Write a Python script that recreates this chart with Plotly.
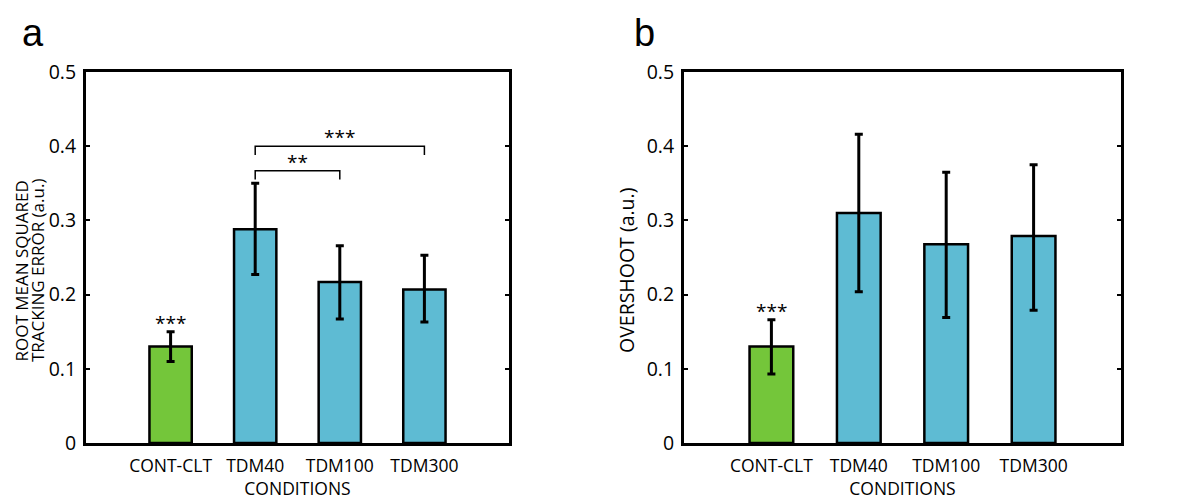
import plotly.graph_objects as go

categories = ["CONT-CLT", "TDM40", "TDM100", "TDM300"]
rmse = [0.130, 0.288, 0.217, 0.207]
rmse_err = [0.020, 0.062, 0.049, 0.046]
rmse_err_minus = [0.020, 0.061, 0.050, 0.044]
overshoot = [0.130, 0.310, 0.268, 0.279]
overshoot_err = [0.036, 0.106, 0.097, 0.096]
overshoot_err_minus = [0.037, 0.106, 0.099, 0.100]
yticks = [0, 0.1, 0.2, 0.3, 0.4, 0.5]
ytick_text = ["0", "0.1", "0.2", "0.3", "0.4", "0.5"]
# significance brackets for panel a: (from, to, level, label)
brackets_a = [("TDM40", "TDM100", 0.367, "**"), ("TDM40", "TDM300", 0.400, "***")]

GREEN = "#74C63A"
BLUE = "#5EBBD3"
colors = [GREEN, BLUE, BLUE, BLUE]
FONT = "Open Sans"

OFF = 8  # page body margin
W, H = 1200 - OFF, 500 - OFF
L, R, T, B = 86 - OFF, 1121 - OFF, 72 - OFF, 443 - OFF  # plot-area pixel extents
pw = R - L

fig = go.Figure()

def add_bars(vals, ep, em, xa, ya):
    fig.add_trace(go.Bar(
        x=categories, y=vals, xaxis=xa, yaxis=ya, width=0.5,
        marker=dict(color=colors, line=dict(color="black", width=2.5)),
        error_y=dict(type="data", array=ep, arrayminus=em, symmetric=False,
                     color="black", thickness=3, width=4),
        showlegend=False, hoverinfo="skip"))

add_bars(rmse, rmse_err, rmse_err_minus, "x", "y")
add_bars(overshoot, overshoot_err, overshoot_err_minus, "x2", "y2")

leg = 0.012
for a, b, lvl, lab in brackets_a:
    fig.add_trace(go.Scatter(
        x=[a, a, b, b], y=[lvl - leg, lvl, lvl, lvl - leg], mode="lines",
        line=dict(color="black", width=1.5), xaxis="x", yaxis="y",
        showlegend=False, hoverinfo="skip"))
    ia, ib = categories.index(a), categories.index(b)
    fig.add_annotation(x=(ia + ib) / 2, y=lvl, xref="x", yref="y", text=lab,
                       showarrow=False, yanchor="bottom", yshift=-6,
                       font=dict(family=FONT, size=19, color="black"))

fig.add_annotation(x=categories[0], y=rmse[0] + rmse_err[0], xref="x", yref="y",
                   text="***", showarrow=False, yanchor="bottom", yshift=-6,
                   font=dict(family=FONT, size=19, color="black"))
fig.add_annotation(x=categories[0], y=overshoot[0] + overshoot_err[0], xref="x2", yref="y2",
                   text="***", showarrow=False, yanchor="bottom", yshift=-6,
                   font=dict(family=FONT, size=19, color="black"))

xcommon = dict(type="category", range=[-1, 4], showline=True, linewidth=3,
               linecolor="black", mirror=True, ticks="", showgrid=False, automargin=False,
               ticklabelstandoff=5,
               tickfont=dict(family=FONT, size=17.5, color="black"),
               title=dict(text="CONDITIONS", font=dict(family=FONT, size=17.5, color="black"),
                          standoff=6))
ycommon = dict(range=[0, 0.5], tickvals=yticks, ticktext=ytick_text, showline=True,
               linewidth=3, linecolor="black", mirror="ticks", ticks="inside",
               ticklen=4, tickwidth=2, tickcolor="black", showgrid=False, zeroline=False,
               automargin=False, ticklabelstandoff=3,
               tickfont=dict(family=FONT, size=19.5, color="black"))

fig.update_layout(
    width=W, height=H, margin=dict(l=L, r=W - R, t=T, b=H - B, autoexpand=False),
    paper_bgcolor="white", plot_bgcolor="white", bargap=0.5,
    xaxis=dict(domain=[0, (509 - 86) / pw], anchor="y", **xcommon),
    yaxis=dict(domain=[0, 1], anchor="x", **ycommon),
    xaxis2=dict(domain=[(684 - 86) / pw, 1], anchor="y2", **xcommon),
    yaxis2=dict(domain=[0, 1], anchor="x2", **ycommon),
)

def px_x(p):
    return (p - OFF - L) / pw

def px_y(p):
    return (B - (p - OFF)) / (B - T)

# y-axis titles (reference-image pixel positions)
fig.add_annotation(x=px_x(20.5), y=px_y(271), xref="paper", yref="paper",
                   text="ROOT MEAN SQUARED", textangle=-90,
                   showarrow=False, xanchor="center", yanchor="middle",
                   font=dict(family=FONT, size=17, color="black"))
fig.add_annotation(x=px_x(37), y=px_y(271), xref="paper", yref="paper",
                   text="TRACKING ERROR (a.u.)", textangle=-90,
                   showarrow=False, xanchor="center", yanchor="middle",
                   font=dict(family=FONT, size=17, color="black"))
fig.add_annotation(x=px_x(626), y=px_y(271), xref="paper", yref="paper",
                   text="OVERSHOOT (a.u.)", textangle=-90,
                   showarrow=False, xanchor="center", yanchor="middle",
                   font=dict(family=FONT, size=19.5, color="black"))

# panel letters
fig.add_annotation(x=px_x(20), y=px_y(10), xref="paper", yref="paper", text="a",
                   showarrow=False, xanchor="left", yanchor="top",
                   font=dict(family="Liberation Sans", size=38, color="black"))
fig.add_annotation(x=px_x(632), y=px_y(10), xref="paper", yref="paper", text="b",
                   showarrow=False, xanchor="left", yanchor="top",
                   font=dict(family="Liberation Sans", size=38, color="black"))

fig.write_html("out.html")
